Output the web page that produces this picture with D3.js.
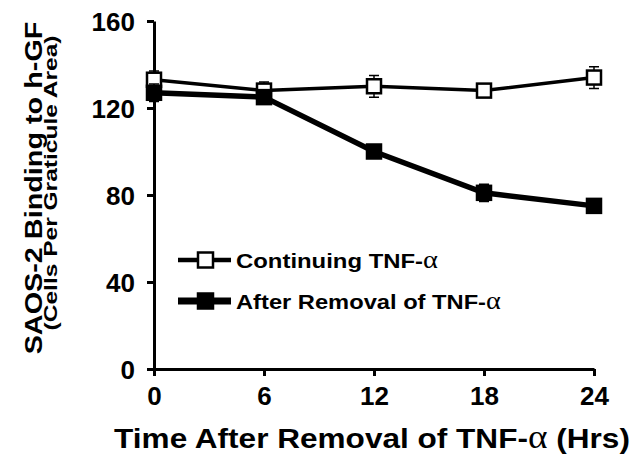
<!DOCTYPE html>
<html>
<head>
<meta charset="utf-8">
<script src="https://cdn.jsdelivr.net/npm/d3@7"></script>
<style>
  body { margin: 0; background: #fff; }
  text { font-family: "Liberation Sans", Arial, sans-serif; font-weight: bold; fill: #000; }
  .alpha { font-family: "Liberation Serif", "Times New Roman", serif; font-weight: normal; }
</style>
</head>
<body>
<svg width="633" height="458"></svg>
<script>
const hours = [0, 6, 12, 18, 24]
const continuing = [133, 128, 130, 128, 134]
const continuingErr = [4, 4, 5, 2, 5]
const removal = [127, 125, 100, 81, 75]
const removalErr = [4, 2, 3, 4, 2]
const yTicks = [0, 40, 80, 120, 160]

const svg = d3.select('svg')
const x = d3.scaleLinear().domain([0, 24]).range([154, 594])
const y = d3.scaleLinear().domain([0, 160]).range([369, 21])

// text in the source is a bit wider than Arial, stretch it to width
function stretched(cx, cy, rot, width, size, parts) {
  const g = svg.append('g').attr('transform', `translate(${cx},${cy}) rotate(${rot})`)
  const t = g.append('text').attr('text-anchor', 'middle').style('font-size', size + 'px')
  parts.forEach(p => {
    const s = t.append('tspan').text(p.s)
    if (p.alpha) s.attr('class', 'alpha').style('font-size', (size * 1.18) + 'px')
  })
  const w = t.node().getComputedTextLength()
  t.attr('transform', `scale(${width / w},1)`)
  return t
}

// axes
const yAxis = svg.append('g')
  .attr('transform', 'translate(154,0)')
  .call(d3.axisLeft(y).tickValues(yTicks).tickSize(7).tickSizeOuter(0).tickPadding(12))
yAxis.select('.domain').attr('stroke-width', 3)
yAxis.selectAll('line').attr('stroke-width', 3)
yAxis.selectAll('text').style('font-size', '26px').attr('dy', '0.36em')

const xAxis = svg.append('g')
  .attr('transform', 'translate(0,369)')
  .call(d3.axisBottom(x).tickValues(hours).tickSize(7).tickSizeOuter(0).tickPadding(11))
xAxis.select('.domain').attr('stroke-width', 3)
xAxis.selectAll('line').attr('stroke-width', 3)
xAxis.selectAll('text').style('font-size', '26px')

// titles
stretched(372, 448, 0, 516, 28, [{s: 'Time After Removal of TNF-'}, {s: 'α', alpha: true}, {s: ' (Hrs)'}])
stretched(42, 188, -90, 333, 24, [{s: 'SAOS-2 Binding to h-GF'}])
stretched(57, 183, -90, 295, 19, [{s: '(Cells Per Graticule Area)'}])

// series
function drawSeries(vals, errs, lw, fill) {
  const pts = hours.map((h, i) => ({h, v: vals[i], e: errs[i]}))
  const g = svg.append('g')
  g.selectAll('path.err').data(pts).join('path')
    .attr('stroke', '#000').attr('stroke-width', 1.5).attr('fill', 'none')
    .attr('d', d => {
      const cx = x(d.h), t = y(d.v + d.e), b = y(d.v - d.e)
      return `M${cx},${t}V${b}M${cx - 5},${t}H${cx + 5}M${cx - 5},${b}H${cx + 5}`
    })
  g.append('path').datum(pts)
    .attr('fill', 'none').attr('stroke', '#000').attr('stroke-width', lw)
    .attr('d', d3.line().x(d => x(d.h)).y(d => y(d.v)))
  g.selectAll('rect').data(pts).join('rect')
    .attr('x', d => x(d.h) - 7).attr('y', d => y(d.v) - 7)
    .attr('width', 14).attr('height', 14)
    .attr('fill', fill).attr('stroke', '#000').attr('stroke-width', 2.5)
}
drawSeries(continuing, continuingErr, 3.5, '#fff')
drawSeries(removal, removalErr, 5.5, '#000')

// legend
const legend = [
  {label: 'Continuing TNF-', fill: '#fff', lw: 4.5, y: 260, w: 202},
  {label: 'After Removal of TNF-', fill: '#000', lw: 7, y: 301, w: 265}
]
legend.forEach(l => {
  svg.append('line').attr('x1', 178).attr('x2', 231).attr('y1', l.y).attr('y2', l.y)
    .attr('stroke', '#000').attr('stroke-width', l.lw)
  svg.append('rect').attr('x', 198).attr('y', l.y - 7.5).attr('width', 15).attr('height', 15)
    .attr('fill', l.fill).attr('stroke', '#000').attr('stroke-width', 2.5)
  const t = svg.append('text').attr('transform', `translate(236,${l.y + 8})`).style('font-size', '21px')
  t.append('tspan').text(l.label)
  t.append('tspan').attr('class', 'alpha').style('font-size', '25px').text('α')
  const w = t.node().getComputedTextLength()
  t.attr('transform', `translate(236,${l.y + 8}) scale(${l.w / w},1)`)
})
</script>
</body>
</html>
